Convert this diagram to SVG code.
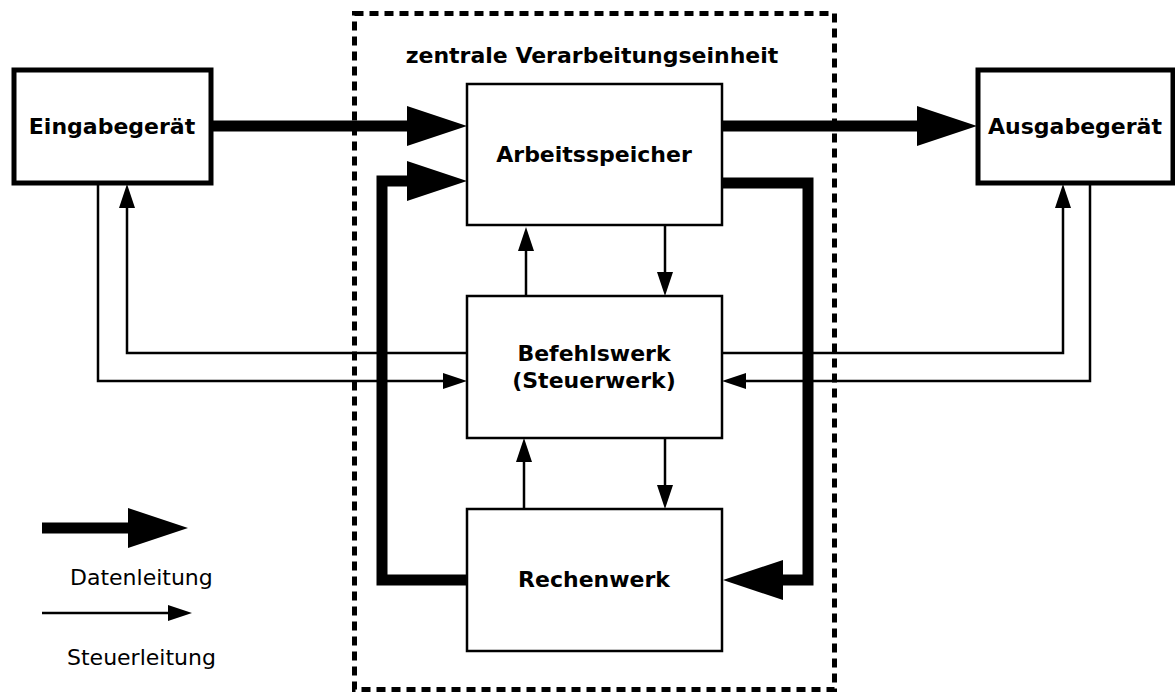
<svg xmlns="http://www.w3.org/2000/svg" width="1175" height="693" viewBox="0 0 1175 693">
<style>
.box{fill:#fff;stroke:#000;stroke-width:2.5}
.dev{fill:#fff;stroke:#000;stroke-width:5}
.lbl{font-family:"DejaVu Sans",sans-serif;font-weight:bold;font-size:22px;text-anchor:middle}
.leg{font-family:"DejaVu Sans",sans-serif;font-size:22px}
.thick{fill:none;stroke:#000;stroke-width:11;stroke-linejoin:miter}
.thin{fill:none;stroke:#000;stroke-width:2.5}
</style>
<defs>
<marker id="big" markerUnits="userSpaceOnUse" markerWidth="60" markerHeight="40" viewBox="0 -20 60 40" refX="0" refY="0" orient="auto" overflow="visible">
<path d="M0,-20 L60,0 L0,20 z" fill="#000"/>
</marker>
<marker id="small" markerUnits="userSpaceOnUse" markerWidth="24" markerHeight="16" viewBox="0 -8 24 16" refX="0" refY="0" orient="auto" overflow="visible">
<path d="M0,-8 L24,0 L0,8 z" fill="#000"/>
</marker>
</defs>
<rect width="1175" height="693" fill="#fff"/>
<g id="cpu">
<rect x="354.5" y="13.5" width="480" height="676" fill="none" stroke="#000" stroke-width="5" stroke-dasharray="9 6"/>
<text class="lbl" x="592" y="63">zentrale Verarbeitungseinheit</text>
</g>
<g id="connectors">
<path class="thick" d="M212,126 H407" marker-end="url(#big)"/>
<path class="thick" d="M467,580 H382 V181 H407" marker-end="url(#big)"/>
<path class="thick" d="M722,126 H917" marker-end="url(#big)"/>
<path class="thick" d="M722,183 H808 V580 H783" marker-end="url(#big)"/>
<path class="thin" d="M98,184 V381 H443" marker-end="url(#small)"/>
<path class="thin" d="M467,353 H127 V208" marker-end="url(#small)"/>
<path class="thin" d="M722,353 H1063 V208" marker-end="url(#small)"/>
<path class="thin" d="M1090,184 V381 H746" marker-end="url(#small)"/>
<path class="thin" d="M526,296 V251" marker-end="url(#small)"/>
<path class="thin" d="M665,225 V272" marker-end="url(#small)"/>
<path class="thin" d="M524,509 V462" marker-end="url(#small)"/>
<path class="thin" d="M665,438 V485" marker-end="url(#small)"/>
</g>
<g id="eingabe">
<rect class="dev" x="14" y="70" width="197" height="113"/>
<text class="lbl" x="112" y="134">Eingabegerät</text>
</g>
<g id="ausgabe">
<rect class="dev" x="978" y="70" width="195" height="113"/>
<text class="lbl" x="1075" y="134">Ausgabegerät</text>
</g>
<g id="arbeitsspeicher">
<rect class="box" x="467" y="84" width="255" height="141"/>
<text class="lbl" x="594" y="162">Arbeitsspeicher</text>
</g>
<g id="befehlswerk">
<rect class="box" x="467" y="296" width="255" height="142"/>
<text class="lbl" x="594" y="361">Befehlswerk</text>
<text class="lbl" x="594" y="388">(Steuerwerk)</text>
</g>
<g id="rechenwerk">
<rect class="box" x="467" y="509" width="255" height="142"/>
<text class="lbl" x="594" y="587">Rechenwerk</text>
</g>
<g id="legend">
<path class="thick" d="M42,528 H128" marker-end="url(#big)"/>
<text class="leg" x="70" y="585">Datenleitung</text>
<path class="thin" d="M42,613 H168" marker-end="url(#small)"/>
<text class="leg" x="67" y="665">Steuerleitung</text>
</g>
</svg>
